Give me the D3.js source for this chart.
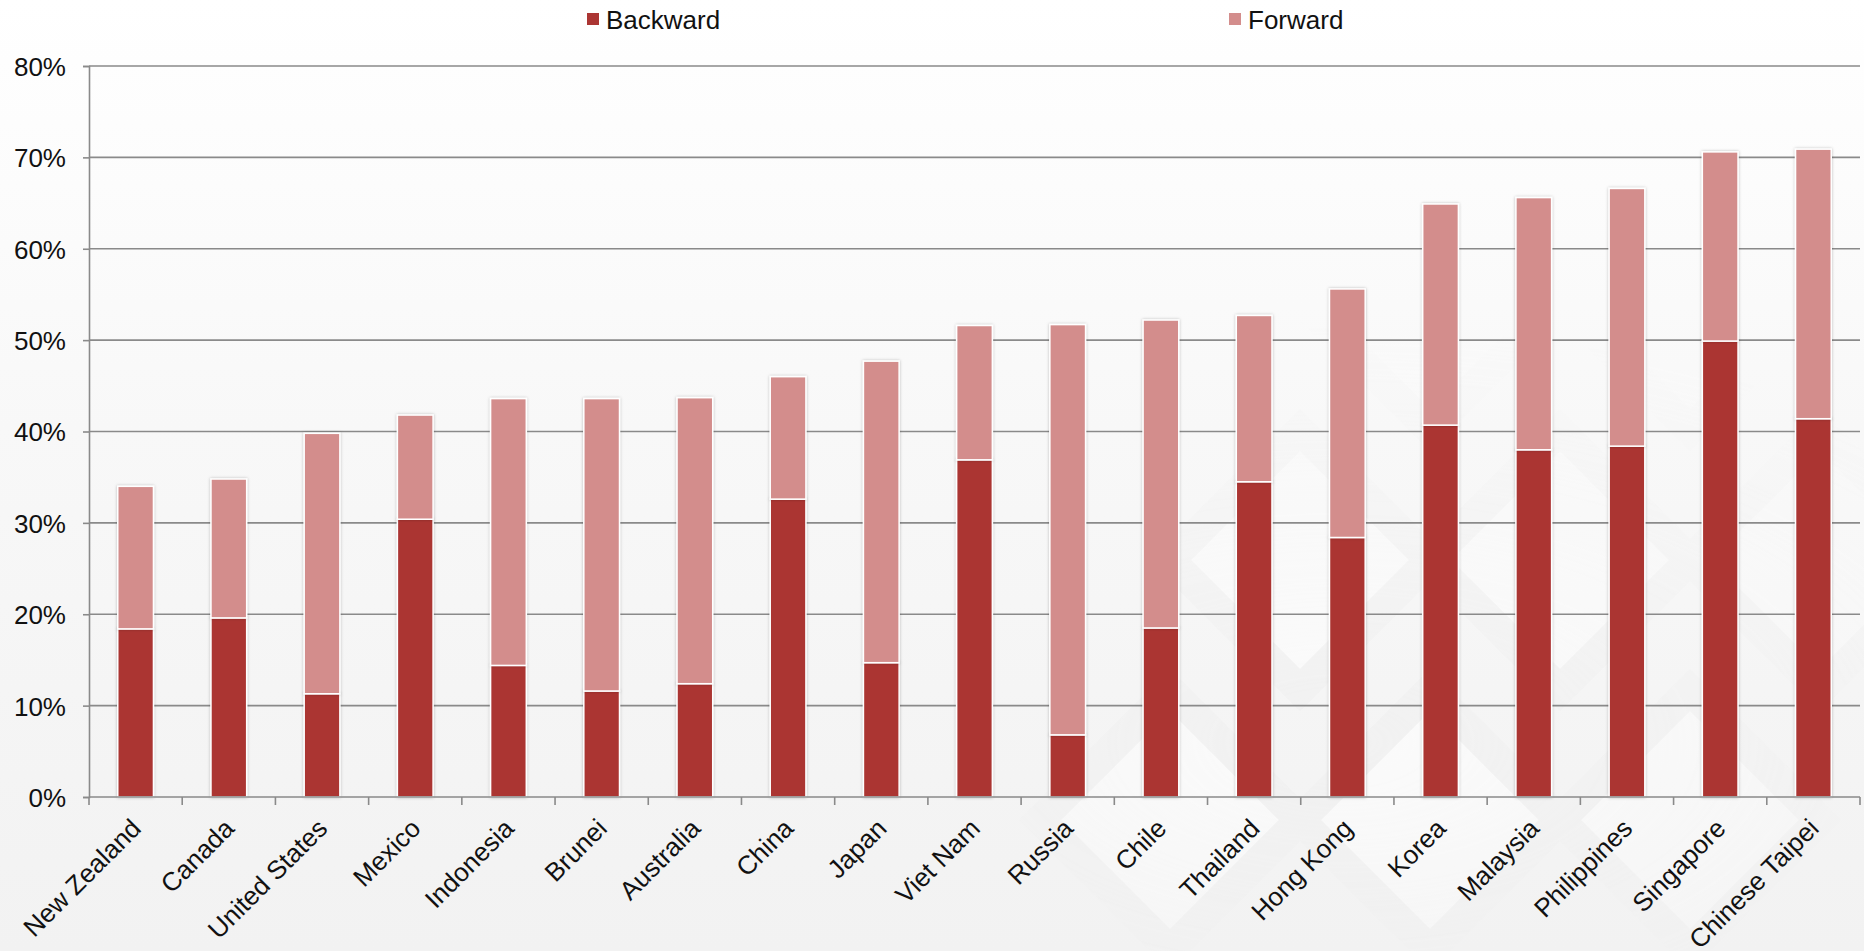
<!DOCTYPE html>
<html>
<head>
<meta charset="utf-8">
<script src="https://cdn.jsdelivr.net/npm/d3@7"></script>
<style>
  html, body { margin: 0; padding: 0; }
  body { width: 1864px; height: 951px; overflow: hidden; font-family: "Liberation Sans", Arial, sans-serif; }
  svg { display: block; }
</style>
</head>
<body>
<svg id="chart" width="1864" height="951"></svg>
<script>
// GVC participation by economy: backward and forward shares (%)
const economies = ["New Zealand", "Canada", "United States", "Mexico", "Indonesia", "Brunei",
  "Australia", "China", "Japan", "Viet Nam", "Russia", "Chile", "Thailand", "Hong Kong",
  "Korea", "Malaysia", "Philippines", "Singapore", "Chinese Taipei"];
const backward = [18.4, 19.6, 11.3, 30.4, 14.4, 11.6, 12.4, 32.6, 14.7, 36.9, 6.8, 18.5,
  34.5, 28.4, 40.7, 38.0, 38.4, 49.9, 41.4];
const forward = [15.6, 15.2, 28.5, 11.4, 29.2, 32.0, 31.3, 13.4, 33.0, 14.7, 44.9, 33.7,
  18.2, 27.2, 24.2, 27.6, 28.2, 20.7, 29.5];
const seriesNames = ["Backward", "Forward"];
const seriesColors = ["#ab3533", "#d38d8c"];
const yTicks = [0, 10, 20, 30, 40, 50, 60, 70, 80];

const W = 1864, H = 951;
const plot = { left: 89, right: 1860, top: 66, bottom: 797 };

const svg = d3.select("#chart");
const defs = svg.append("defs");

// soft page background
const bg = defs.append("linearGradient").attr("id", "bg").attr("x1", 0).attr("y1", 0).attr("x2", 0).attr("y2", 1);
bg.append("stop").attr("offset", "0%").attr("stop-color", "#ffffff");
bg.append("stop").attr("offset", "45%").attr("stop-color", "#f8f8f8");
bg.append("stop").attr("offset", "100%").attr("stop-color", "#f2f2f2");

// fade for the decorative lattice
const fade = defs.append("radialGradient").attr("id", "fade")
  .attr("cx", 0.72).attr("cy", 0.78).attr("r", 0.45);
fade.append("stop").attr("offset", "0%").attr("stop-color", "#fff").attr("stop-opacity", 1);
fade.append("stop").attr("offset", "100%").attr("stop-color", "#fff").attr("stop-opacity", 0);
defs.append("mask").attr("id", "latticeMask")
  .append("rect").attr("width", W).attr("height", H).attr("fill", "url(#fade)");

const shadow = defs.append("filter").attr("id", "barShadow")
  .attr("x", "-30%").attr("y", "-5%").attr("width", "160%").attr("height", "110%");
shadow.append("feDropShadow").attr("dx", 0).attr("dy", 0).attr("stdDeviation", 1.6)
  .attr("flood-color", "#000").attr("flood-opacity", 0.26);

svg.append("rect").attr("width", W).attr("height", H).attr("fill", "url(#bg)");

// faint diamond lattice in the background
const lattice = svg.append("g").attr("mask", "url(#latticeMask)")
  .attr("fill", "#ffffff").attr("stroke", "#efefef").attr("stroke-width", 30).attr("opacity", 0.6);
[[1300, 560], [1560, 560], [1820, 560], [1430, 820], [1690, 820], [1170, 820], [1430, 300], [1690, 300]].forEach(([cx, cy]) => {
  lattice.append("path").attr("d", `M${cx},${cy - 130} L${cx + 130},${cy} L${cx},${cy + 130} L${cx - 130},${cy} Z`);
});

const x = d3.scaleBand().domain(economies).range([plot.left, plot.right]).padding(0);
const y = d3.scaleLinear().domain([0, 80]).range([plot.bottom, plot.top]);
const barW = x.bandwidth() * 0.383;

// horizontal gridlines
svg.append("g").selectAll("line").data(yTicks.filter(d => d > 0)).join("line")
  .attr("x1", plot.left).attr("x2", plot.right)
  .attr("y1", d => y(d)).attr("y2", d => y(d))
  .attr("stroke", "#8a8a8a").attr("stroke-width", 1.6);

// y axis
const yAxis = svg.append("g").attr("transform", `translate(${plot.left},0)`)
  .call(d3.axisLeft(y).tickValues(yTicks).tickSize(6).tickPadding(17).tickFormat(d => d + "%"));
yAxis.select(".domain").attr("stroke", "#8a8a8a").attr("stroke-width", 1.6);
yAxis.selectAll(".tick line").attr("stroke", "#8a8a8a").attr("stroke-width", 1.6);
yAxis.selectAll(".tick text").attr("font-size", 26).attr("fill", "#111")
  .attr("font-family", "'Liberation Sans', Arial, sans-serif").attr("dy", "0.36em");

// stacked bars
const stackData = economies.map((e, i) => ({ name: e, Backward: backward[i], Forward: forward[i] }));
const stacked = d3.stack().keys(seriesNames)(stackData);

const barsG = svg.append("g");
stacked.forEach((layer, li) => {
  barsG.append("g").selectAll("rect").data(layer).join("rect")
    .attr("x", d => x(d.data.name) + (x.bandwidth() - barW) / 2)
    .attr("width", barW)
    .attr("y", d => y(d[1]))
    .attr("height", d => y(d[0]) - y(d[1]))
    .attr("fill", seriesColors[li])
    .attr("stroke", "#ffffff").attr("stroke-width", 1.5)
    .attr("filter", "url(#barShadow)");
});

// x axis line and ticks at category boundaries
const xAxisG = svg.append("g");
xAxisG.append("line").attr("x1", plot.left).attr("x2", plot.right).attr("y1", plot.bottom).attr("y2", plot.bottom)
  .attr("stroke", "#8a8a8a").attr("stroke-width", 1.6);
const boundaries = economies.map(e => x(e)).concat([plot.right]);
xAxisG.selectAll("line.tk").data(boundaries).join("line").attr("class", "tk")
  .attr("x1", d => d).attr("x2", d => d).attr("y1", plot.bottom).attr("y2", plot.bottom + 8)
  .attr("stroke", "#8a8a8a").attr("stroke-width", 1.6);

// rotated category labels
xAxisG.selectAll("text").data(economies).join("text")
  .attr("transform", d => `translate(${x(d) + x.bandwidth() / 2 + 7},${plot.bottom + 33}) rotate(-45)`)
  .attr("text-anchor", "end")
  .attr("font-size", 26).attr("fill", "#111")
  .text(d => d);

// legend
const legendX = [587, 1229];
const legend = svg.append("g");
seriesNames.forEach((s, i) => {
  legend.append("rect").attr("x", legendX[i]).attr("y", 13).attr("width", 12).attr("height", 12)
    .attr("fill", seriesColors[i]);
  legend.append("text").attr("x", legendX[i] + 19).attr("y", 29)
    .attr("font-size", 26).attr("fill", "#111").text(s);
});
</script>
</body>
</html>
